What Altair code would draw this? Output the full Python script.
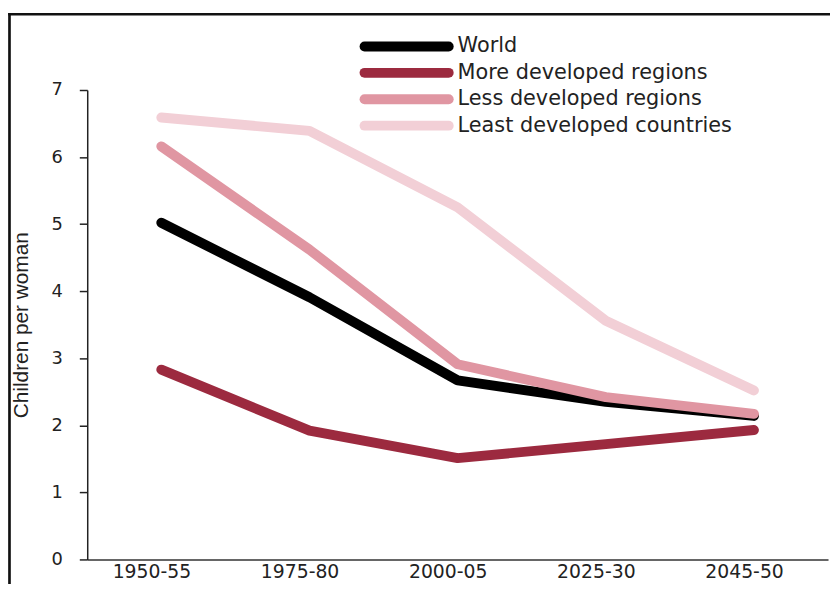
import altair as alt
import pandas as pd

periods = ["1950-55", "1975-80", "2000-05", "2025-30", "2045-50"]
series = ["World", "More developed regions", "Less developed regions", "Least developed countries"]
world = [5.02, 3.91, 2.67, 2.35, 2.14]
more_dev = [2.83, 1.92, 1.51, 1.72, 1.93]
less_dev = [6.16, 4.62, 2.91, 2.42, 2.17]
least_dev = [6.59, 6.39, 5.25, 3.56, 2.52]
colors = ["#000000", "#9c2a3f", "#e096a2", "#f2cfd6"]
y_ticks = [0, 1, 2, 3, 4, 5, 6, 7]

rows = []
for name, vals in zip(series, [world, more_dev, less_dev, least_dev]):
    for p, v in zip(periods, vals):
        rows.append({"period": p, "series": name, "value": v})
df = pd.DataFrame(rows)
legend_df = pd.DataFrame({"series": series})

FONT = "DejaVu Sans"
TFONT = "Liberation Sans"
color_scale = alt.Scale(domain=series, range=colors)

lines = alt.Chart(df).mark_line(strokeWidth=10, strokeCap="round", strokeJoin="round").encode(
    x=alt.X("period:N", sort=periods,
            scale=alt.Scale(type="point", padding=0.5),
            axis=alt.Axis(title=None, labelAngle=0, ticks=False, labelPadding=3, labelOffset=-10,
                          labelFont=FONT, labelFontSize=19, labelColor="#222",
                          domainColor="#333", domainWidth=1.5, grid=False)),
    y=alt.Y("value:Q", scale=alt.Scale(domain=[0, 7], nice=False),
            axis=alt.Axis(values=y_ticks, title="Children per woman", grid=False,
                          tickSize=8, tickColor="#222", tickWidth=1.5,
                          domainColor="#222", domainWidth=1.5,
                          labelPadding=17, labelFont=FONT, labelFontSize=18, labelColor="#222",
                          titleFont=TFONT, titleFontSize=21, titleFontWeight="normal",
                          titleColor="#222", titlePadding=20)),
    color=alt.Color("series:N", sort=series, scale=color_scale, legend=None),
    order=alt.Order("series:N"),
)

legend_y = alt.Y("series:N", sort=series, axis=None,
                 scale=alt.Scale(type="point", domain=series, range=[-44, 36], padding=0))

legend_lines = alt.Chart(legend_df).mark_rule(strokeWidth=10, strokeCap="round").encode(
    x=alt.value(280), x2=alt.value(365), y=legend_y,
    color=alt.Color("series:N", sort=series, scale=color_scale, legend=None),
)
legend_text = alt.Chart(legend_df).mark_text(
    align="left", baseline="middle", font=FONT, fontSize=21, color="#222"
).encode(x=alt.value(374), y=legend_y, text="series:N")

frame_data = alt.Data(values=[{"k": 1}])
frame_top = alt.Chart(frame_data).mark_rule(stroke="#111", strokeWidth=2.7).encode(
    x=alt.value(-79.8), x2=alt.value(1200), y=alt.value(-76.5)
)
frame_left = alt.Chart(frame_data).mark_rule(stroke="#111", strokeWidth=2.7).encode(
    x=alt.value(-78.5), y=alt.value(-77.8), y2=alt.value(900)
)

chart = alt.layer(frame_top, frame_left, lines, legend_lines, legend_text).resolve_scale(
    y="independent"
).properties(
    width=748, height=474,
    padding={"left": 80, "top": 80, "right": 2, "bottom": 22},
    autosize=alt.AutoSizeParams(type="none"),
).configure_view(strokeWidth=0)

chart.save("out.html", embed_options={"renderer": "svg", "actions": False})
